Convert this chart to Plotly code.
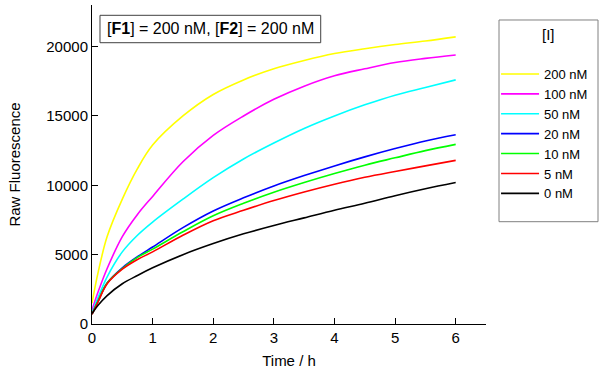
import plotly.graph_objects as go

# Time points (h)
time_h = [0, 0.1, 0.25, 0.5, 0.75, 1, 1.5, 2, 2.5, 3, 3.5, 4, 4.5, 5, 5.5, 6]

# Raw fluorescence, one list per [I]
i_200 = [1500, 3700, 6300, 9000, 11200, 12900, 15000, 16550, 17600, 18400, 19000, 19500, 19850, 20150, 20400, 20700]
i_100 = [1000, 2300, 4000, 6300, 7900, 9200, 11700, 13600, 15000, 16200, 17150, 17900, 18400, 18850, 19150, 19400]
i_50 = [800, 1900, 3400, 5200, 6400, 7350, 9000, 10550, 11900, 13050, 14100, 15000, 15800, 16500, 17050, 17600]
i_20 = [700, 1650, 2950, 4050, 4850, 5550, 6950, 8150, 9100, 9950, 10700, 11400, 12050, 12650, 13200, 13650]
i_10 = [700, 1650, 2950, 4000, 4800, 5400, 6650, 7800, 8700, 9500, 10200, 10850, 11450, 11980, 12500, 12950]
i_5 = [700, 1600, 2900, 3950, 4650, 5200, 6400, 7450, 8200, 8900, 9520, 10080, 10580, 11000, 11400, 11800]
i_0 = [750, 1350, 2050, 2900, 3500, 4050, 5000, 5800, 6500, 7100, 7650, 8200, 8700, 9250, 9750, 10200]

series_names = ["200 nM", "100 nM", "50 nM", "20 nM", "10 nM", "5 nM", "0 nM"]
series_values = [i_200, i_100, i_50, i_20, i_10, i_5, i_0]
series_colors = ["#FFFF00", "#FF00FF", "#00FFFF", "#0000FF", "#00FF00", "#FF0000", "#000000"]

x_ticks = [0, 1, 2, 3, 4, 5, 6]
y_ticks = [0, 5000, 10000, 15000, 20000]
y_tick_labels = ["0", "5000", "10000", "15000", "20000"]

FONT = "Liberation Sans, Arial, sans-serif"

fig = go.Figure()
for name, vals, col in zip(series_names, series_values, series_colors):
    fig.add_trace(go.Scatter(
        x=time_h, y=vals, name=name, mode="lines",
        line=dict(color=col, width=1.6, shape="spline", smoothing=1.0),
    ))

fig.update_layout(
    width=600, height=377,
    margin=dict(l=92, r=114, t=5, b=53, autoexpand=False),
    paper_bgcolor="white", plot_bgcolor="white",
    font=dict(family=FONT, size=15, color="black"),
    showlegend=True,
    legend=dict(
        x=1.0255, y=0.8307, xanchor="left", yanchor="top",
        bgcolor="rgba(0,0,0,0)", borderwidth=0,
        font=dict(family=FONT, size=13, color="black"),
        itemwidth=38, tracegroupgap=0,
    ),
    xaxis=dict(
        range=[0, 6.5], tickvals=x_ticks, ticks="inside", ticklen=6,
        showline=True, linecolor="black", linewidth=1, tickcolor="black",
        showgrid=False, zeroline=False, automargin=False,
        title=dict(text="Time / h", font=dict(family=FONT, size=15), standoff=10),
        tickfont=dict(family=FONT, size=15),
    ),
    yaxis=dict(
        range=[0, 23000], tickvals=y_ticks, ticktext=y_tick_labels,
        ticks="inside", ticklen=6,
        showline=True, linecolor="black", linewidth=1, tickcolor="black",
        showgrid=False, zeroline=False, automargin=False,
        title=dict(text="Raw Fluorescence", font=dict(family=FONT, size=15), standoff=22),
        tickfont=dict(family=FONT, size=15),
    ),
    shapes=[
        dict(type="rect", xref="paper", yref="paper",
             x0=0.0203, x1=0.5805, y0=0.8818, y1=0.9677,
             line=dict(color="#404040", width=1), fillcolor="white", layer="above"),
        dict(type="rect", xref="paper", yref="paper",
             x0=1.033, x1=1.2843, y0=0.3207, y1=0.953,
             line=dict(color="#808080", width=1), fillcolor="rgba(0,0,0,0)"),
    ],
    annotations=[
        dict(text="[<b>F1</b>] = 200 nM, [<b>F2</b>] = 200 nM",
             xref="paper", yref="paper", x=0.3004, y=0.9248,
             xanchor="center", yanchor="middle", showarrow=False,
             font=dict(family=FONT, size=16, color="black")),
        dict(text="[I]", xref="paper", yref="paper", x=1.1587, y=0.909,
             xanchor="center", yanchor="middle", showarrow=False,
             font=dict(family=FONT, size=15, color="black")),
    ],
)

fig.write_html(
    "out.html",
    config={"displayModeBar": False},
    post_script="document.body.style.margin='0';document.body.style.overflow='hidden';",
)
